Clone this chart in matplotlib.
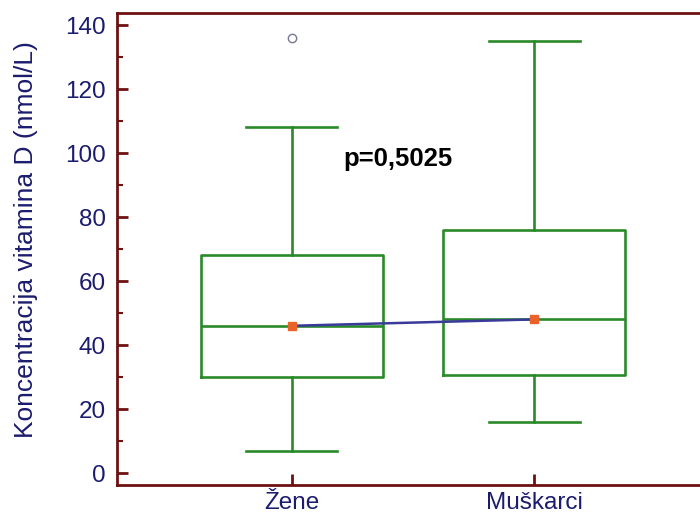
import matplotlib
matplotlib.use('Agg')
import matplotlib.pyplot as plt
from matplotlib.ticker import MultipleLocator

plt.rcParams['font.family'] = ['Liberation Sans', 'DejaVu Sans']

# values
groups = ['Žene', 'Muškarci']
whisker_low = [7, 16]
q1 = [30, 30.5]
median = [46, 48]
q3 = [68, 76]
whisker_high = [108, 135]
mean = [46, 48]
outliers = [[136], []]
p_label = 'p=0,5025'

navy = '#1c1c6e'
spine_red = '#6e1010'
green = '#2a8a2a'

fig = plt.figure(figsize=(7, 5.17), dpi=100)
ax = fig.add_axes([117 / 700, 1 - 485 / 517, 1 - 117 / 700, (485 - 13) / 517])

stats = []
for i in range(len(groups)):
    stats.append({
        'label': groups[i], 'whislo': whisker_low[i], 'q1': q1[i], 'med': median[i],
        'q3': q3[i], 'whishi': whisker_high[i], 'mean': mean[i], 'fliers': outliers[i],
    })

positions = [1, 2]
line_style = dict(color=green, linewidth=1.9)
ax.bxp(stats, positions=positions, widths=0.75, showmeans=False,
       boxprops=line_style, medianprops=line_style, whiskerprops=line_style,
       capprops=line_style, capwidths=0.375,
       flierprops=dict(marker='o', markersize=6, markerfacecolor='none',
                       markeredgecolor='#777799', markeredgewidth=1.0))

# line connecting the means
ax.plot(positions, mean, color='#3a3a9a', linewidth=1.8, zorder=3)
ax.plot(positions, mean, linestyle='none', marker='s', markersize=5.5,
        markerfacecolor='#e8622a', markeredgecolor='#e8622a', zorder=4)

ax.text(1.215, 98, p_label, fontsize=18.5, fontweight='bold', color='black',
        ha='left', va='center')

ax.set_xlim(0.28, 2.683)
ax.set_ylim(-3.75, 143.75)
ax.yaxis.set_major_locator(MultipleLocator(20))
ax.yaxis.set_minor_locator(MultipleLocator(10))
ax.set_xticks(positions)
ax.set_xticklabels(groups)

ax.spines['right'].set_visible(False)
for side in ['left', 'top', 'bottom']:
    ax.spines[side].set_color(spine_red)
    ax.spines[side].set_linewidth(2)

ax.tick_params(axis='both', which='major', direction='in', length=8, width=2,
               color=spine_red, labelcolor=navy, labelsize=17.5, pad=8)
ax.tick_params(axis='y', which='minor', direction='in', length=4, width=1.5,
               color=spine_red)
ax.tick_params(axis='x', which='major', pad=5, labelsize=17.5)
ax.tick_params(top=False, right=False)

ax.set_ylabel('Koncentracija vitamina D (nmol/L)', fontsize=19, color=navy)
ax.yaxis.set_label_coords(-0.136, 0.52)

fig.savefig('out.png', dpi=100)
plt.close()
